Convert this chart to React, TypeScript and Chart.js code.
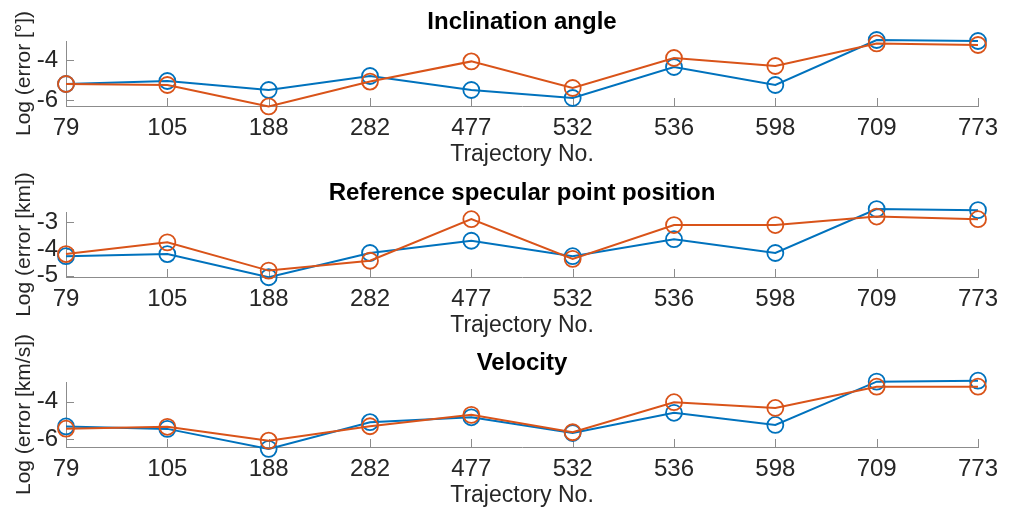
import React, { useEffect, useRef } from 'react';
import { Chart, registerables } from 'chart.js';

Chart.register(...registerables);

// ---------- data ----------
const categories = ['79', '105', '188', '282', '477', '532', '536', '598', '709', '773'];

const inclinationBlue = [-5.2, -5.05, -5.5, -4.8, -5.5, -5.9, -4.35, -5.25, -3.0, -3.05];
const inclinationOrange = [-5.2, -5.25, -6.32, -5.08, -4.07, -5.4, -3.9, -4.3, -3.17, -3.25];
const inclinationTicks = [-6, -4];
const inclinationLimits = [-6.3, -3.05];

const positionBlue = [-4.27, -4.19, -5.06, -4.15, -3.69, -4.27, -3.63, -4.15, -2.5, -2.54];
const positionOrange = [-4.19, -3.75, -4.81, -4.44, -2.88, -4.37, -3.1, -3.1, -2.78, -2.88];
const positionTicks = [-5, -4, -3];
const positionLimits = [-5.05, -2.61];

const velocityBlue = [-5.33, -5.46, -6.53, -5.1, -4.84, -5.68, -4.6, -5.25, -2.93, -2.88];
const velocityOrange = [-5.45, -5.35, -6.09, -5.32, -4.71, -5.64, -4.03, -4.34, -3.2, -3.2];
const velocityTicks = [-6, -4];
const velocityLimits = [-6.43, -2.95];

const titles = ['Inclination angle', 'Reference specular point position', 'Velocity'];
const yTitles = ['Log (error [°])', 'Log (error [km])', 'Log (error [km/s])'];
const xTitle = 'Trajectory No.';

// ---------- style ----------
const BLUE = '#0072BD';
const ORANGE = '#D95319';
const AXIS = '#8c8c8c';
const TEXT = '#262626';
const FONT = "'Liberation Sans', Arial, Helvetica, sans-serif";
const W = 1014;
const H = 512;
const PANEL_OFFSETS = [0, 171, 341];
const PANEL_H = 170;

const insideTicks = {
  id: 'insideTicks',
  beforeDatasetsDraw(chart: any) {
    const { ctx, chartArea, scales } = chart;
    const xs = scales.x;
    const ys = scales.y;
    ctx.save();
    ctx.strokeStyle = AXIS;
    ctx.lineWidth = 1;
    ctx.beginPath();
    xs.ticks.forEach((_t: any, i: number) => {
      const px = Math.round(xs.getPixelForTick(i)) + 0.5;
      ctx.moveTo(px, chartArea.bottom);
      ctx.lineTo(px, chartArea.bottom - 8);
    });
    ys.ticks.forEach((_t: any, i: number) => {
      const py = Math.round(ys.getPixelForTick(i)) + 0.5;
      ctx.moveTo(chartArea.left, py);
      ctx.lineTo(chartArea.left + 8, py);
    });
    ctx.stroke();
    ctx.restore();
  },
};

function makeChart(
  canvas: HTMLCanvasElement,
  idx: number,
  blue: number[],
  orange: number[],
  ticks: number[],
  limits: number[]
) {
  const offset = PANEL_OFFSETS[idx];
  const bottomPad = H - offset - PANEL_H;
  const ds = (data: number[], color: string, order: number) => ({
    data,
    borderColor: color,
    backgroundColor: 'rgba(0,0,0,0)',
    pointBorderColor: color,
    pointBackgroundColor: 'rgba(0,0,0,0)',
    pointRadius: 8,
    pointBorderWidth: 1.8,
    pointStyle: 'circle',
    borderWidth: 2,
    tension: 0,
    clip: false,
    order,
  });
  return new Chart(canvas, {
    type: 'line',
    data: {
      labels: categories,
      datasets: [ds(blue, BLUE, 1), ds(orange, ORANGE, 0)],
    },
    plugins: [insideTicks],
    options: {
      responsive: false,
      animation: false,
      events: [],
      layout: { padding: { top: offset, bottom: bottomPad, left: 0, right: 36 } },
      plugins: {
        legend: { display: false },
        tooltip: { enabled: false },
        title: {
          display: true,
          text: titles[idx],
          fullSize: false,
          color: '#000',
          font: { family: FONT, size: 24, weight: 'bold' },
          padding: { top: 8, bottom: 4.2 },
        },
      },
      scales: {
        x: {
          type: 'category',
          offset: false,
          grid: { display: false, drawTicks: false },
          border: { display: true, color: AXIS, width: 1 },
          ticks: {
            color: TEXT,
            font: { family: FONT, size: 24 },
            padding: 8,
            autoSkip: false,
            maxRotation: 0,
          },
          title: {
            display: true,
            text: xTitle,
            color: TEXT,
            font: { family: FONT, size: 23 },
            padding: { top: 0, bottom: 1.2 },
          },
          afterFit: (scale: any) => {
            scale.height = 64;
          },
        },
        y: {
          type: 'linear',
          min: limits[0],
          max: limits[1],
          grid: { display: false, drawTicks: false },
          border: { display: true, color: AXIS, width: 1 },
          afterBuildTicks: (scale: any) => {
            scale.ticks = ticks.map((v) => ({ value: v }));
          },
          ticks: {
            color: TEXT,
            font: { family: FONT, size: 24 },
            padding: 8,
            callback: (v: any) => String(v),
          },
          title: {
            display: true,
            text: yTitles[idx],
            color: TEXT,
            font: { family: FONT, size: 21 },
            padding: { top: 12, bottom: 0 },
          },
          afterFit: (scale: any) => {
            scale.width = 66;
          },
        },
      },
    } as any,
  });
}

export default function App() {
  const r1 = useRef<HTMLCanvasElement>(null);
  const r2 = useRef<HTMLCanvasElement>(null);
  const r3 = useRef<HTMLCanvasElement>(null);

  useEffect(() => {
    const charts = [
      makeChart(r1.current!, 0, inclinationBlue, inclinationOrange, inclinationTicks, inclinationLimits),
      makeChart(r2.current!, 1, positionBlue, positionOrange, positionTicks, positionLimits),
      makeChart(r3.current!, 2, velocityBlue, velocityOrange, velocityTicks, velocityLimits),
    ];
    return () => charts.forEach((c) => c.destroy());
  }, []);

  const cStyle: React.CSSProperties = { position: 'absolute', left: 0, top: 0 };
  return (
    <div
      style={{
        position: 'absolute',
        left: 0,
        top: 0,
        width: W,
        height: 507,
        overflow: 'hidden',
        background: '#fff',
      }}
    >
      <canvas ref={r1} width={W} height={H} style={cStyle} />
      <canvas ref={r2} width={W} height={H} style={cStyle} />
      <canvas ref={r3} width={W} height={H} style={cStyle} />
    </div>
  );
}
